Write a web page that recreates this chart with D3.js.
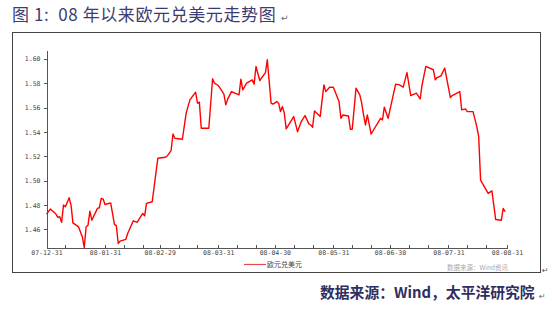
<!DOCTYPE html>
<html>
<head>
<meta charset="utf-8">
<script src="https://cdn.jsdelivr.net/npm/d3@7"></script>
<style>
  body { margin: 0; background: #fff; }
  svg { display: block; }
  .axis path, .axis line { stroke: #555; shape-rendering: crispEdges; }
  .axis text { font-family: "DejaVu Sans Mono", monospace; font-size: 6.5px; fill: #444; }
</style>
</head>
<body>
<div id="chart"></div>
<script>
// EUR/USD daily closes (dates and values)
var dates = [
  "2007-12-31","2008-01-02","2008-01-05","2008-01-06","2008-01-07","2008-01-08","2008-01-09","2008-01-10",
  "2008-01-12","2008-01-13","2008-01-14","2008-01-17","2008-01-19","2008-01-20","2008-01-21","2008-01-22",
  "2008-01-23","2008-01-24","2008-01-27","2008-01-28","2008-01-29","2008-01-30","2008-01-31","2008-02-03",
  "2008-02-05","2008-02-06","2008-02-07","2008-02-08","2008-02-11","2008-02-12","2008-02-15","2008-02-17",
  "2008-02-20","2008-02-21","2008-02-22","2008-02-25","2008-02-28","2008-03-03","2008-03-04","2008-03-06",
  "2008-03-07","2008-03-08","2008-03-12","2008-03-14","2008-03-16","2008-03-19","2008-03-20","2008-03-21",
  "2008-03-22","2008-03-26","2008-03-28","2008-03-29","2008-03-31","2008-04-03","2008-04-04","2008-04-05",
  "2008-04-07","2008-04-11","2008-04-12","2008-04-13","2008-04-15","2008-04-18","2008-04-19","2008-04-20",
  "2008-04-22","2008-04-25","2008-04-26","2008-04-27","2008-04-28","2008-04-29","2008-05-01","2008-05-02",
  "2008-05-03","2008-05-04","2008-05-05","2008-05-06","2008-05-10","2008-05-12","2008-05-14","2008-05-16",
  "2008-05-18","2008-05-19","2008-05-20","2008-05-21","2008-05-24","2008-05-26","2008-05-27","2008-05-29",
  "2008-05-31","2008-06-03","2008-06-04","2008-06-05","2008-06-08","2008-06-09","2008-06-10","2008-06-12",
  "2008-06-14","2008-06-15","2008-06-16","2008-06-17","2008-06-18","2008-06-20","2008-06-25","2008-06-26",
  "2008-06-27","2008-06-29","2008-07-03","2008-07-05","2008-07-07","2008-07-09","2008-07-11","2008-07-14",
  "2008-07-16","2008-07-17","2008-07-19","2008-07-23","2008-07-24","2008-07-25","2008-07-27","2008-07-29",
  "2008-08-01","2008-08-02","2008-08-06","2008-08-07","2008-08-09","2008-08-10","2008-08-13","2008-08-15",
  "2008-08-16","2008-08-17","2008-08-21","2008-08-23","2008-08-25","2008-08-28","2008-08-29","2008-08-30"
];
var eurusd = [
  1.4726,1.4767,1.4726,1.4699,1.4704,1.4658,1.4800,1.4786,
  1.4860,1.4800,1.4654,1.4621,1.4539,1.4452,1.4621,1.4635,
  1.4750,1.4676,1.4773,1.4778,1.4855,1.4849,1.4805,1.4818,
  1.4641,1.4632,1.4485,1.4504,1.4518,1.4567,1.4671,1.4658,
  1.4731,1.4712,1.4814,1.4827,1.5184,1.5192,1.5203,1.5246,
  1.5383,1.5348,1.5340,1.5554,1.5663,1.5726,1.5636,1.5644,
  1.5430,1.5430,1.5836,1.5800,1.5781,1.5710,1.5622,1.5669,
  1.5731,1.5704,1.5833,1.5745,1.5800,1.5827,1.5792,1.5937,
  1.5822,1.5887,1.5992,1.5813,1.5636,1.5628,1.5649,1.5636,
  1.5567,1.5608,1.5554,1.5425,1.5526,1.5402,1.5485,1.5534,
  1.5466,1.5457,1.5439,1.5572,1.5526,1.5786,1.5731,1.5767,
  1.5767,1.5649,1.5512,1.5539,1.5531,1.5422,1.5422,1.5759,
  1.5704,1.5636,1.5540,1.5457,1.5540,1.5383,1.5512,1.5499,
  1.5603,1.5512,1.5792,1.5786,1.5767,1.5887,1.5698,1.5718,
  1.5671,1.5786,1.5937,1.5910,1.5827,1.5846,1.5860,1.5924,
  1.5682,1.5698,1.5731,1.5581,1.5589,1.5567,1.5567,1.5443,
  1.5361,1.5005,1.4896,1.4917,1.4682,1.4676,1.4773,1.4745
];
var yTicks = [1.46, 1.48, 1.50, 1.52, 1.54, 1.56, 1.58, 1.60];
var xTicks = ["2007-12-31","2008-01-31","2008-02-29","2008-03-31","2008-04-30",
              "2008-05-31","2008-06-30","2008-07-31","2008-08-31"];
var seriesName = "欧元兑美元";

var parseDate = d3.timeParse("%Y-%m-%d");
var data = dates.map(function(d, i) { return [parseDate(d), eurusd[i]]; });

var width = 552, height = 310;
var plot = {left: 46.5, right: 507, top: 50.5, bottom: 247.5};

var svg = d3.select("#chart").append("svg")
    .attr("width", width)
    .attr("height", height);

// title and bottom source line (non-breaking spaces keep the gaps)
svg.append("text")
    .attr("x", 12).attr("y", 21)
    .attr("font-family", "'Noto Sans CJK SC', sans-serif")
    .attr("font-size", 17)
    .attr("letter-spacing", 0.6)
    .attr("fill", "#3c3c70")
    .text("图 1:\u00a0\u00a008 年以来欧元兑美元走势图");
svg.append("text")
    .attr("x", 281).attr("y", 21)
    .attr("font-family", "'DejaVu Sans', sans-serif")
    .attr("font-size", 9)
    .attr("fill", "#667")
    .text("↵");

svg.append("text")
    .attr("x", 320).attr("y", 298)
    .attr("font-family", "'Noto Sans CJK SC', sans-serif")
    .attr("font-size", 14.8)
    .attr("font-weight", "bold")
    .attr("fill", "#2e2e60")
    .text("数据来源：Wind，太平洋研究院");
svg.append("text")
    .attr("x", 539).attr("y", 299)
    .attr("font-family", "'DejaVu Sans', sans-serif")
    .attr("font-size", 8)
    .attr("fill", "#667")
    .text("↵");

// the frame round the chart
svg.append("rect")
    .attr("x", 12.5).attr("y", 32.5)
    .attr("width", 528).attr("height", 240)
    .attr("fill", "none")
    .attr("stroke", "#444")
    .attr("stroke-width", 1);
svg.append("text")
    .attr("x", 542).attr("y", 273)
    .attr("font-family", "'DejaVu Sans', sans-serif")
    .attr("font-size", 8)
    .attr("fill", "#555")
    .text("↵");

// scales
var xScale = d3.scaleTime()
    .domain([parseDate("2007-12-31"), parseDate("2008-08-31")])
    .range([plot.left, plot.right]);

var yScale = d3.scaleLinear()
    .domain([1.4452, 1.6068])
    .range([plot.bottom, plot.top]);

// y axis, ticks pointing outwards
var yaxis = d3.axisLeft(yScale)
    .tickValues(yTicks)
    .tickFormat(d3.format(".2f"))
    .tickSize(3)
    .tickSizeOuter(0)
    .tickPadding(3);

svg.append("g")
    .attr("class", "axis y")
    .attr("transform", "translate(" + plot.left + ",0)")
    .call(yaxis);

// minor ticks on the 10th and 20th of every month
var minorTicks = [];
d3.timeMonths(parseDate("2008-01-01"), parseDate("2008-09-01")).forEach(function(m) {
    minorTicks.push(new Date(m.getFullYear(), m.getMonth(), 10));
    minorTicks.push(new Date(m.getFullYear(), m.getMonth(), 20));
});

var xminor = d3.axisBottom(xScale)
    .tickValues(minorTicks)
    .tickFormat("")
    .tickSizeInner(-3)
    .tickSizeOuter(0);

svg.append("g")
    .attr("class", "axis x minor")
    .attr("transform", "translate(0," + plot.bottom + ")")
    .call(xminor)
    .select(".domain").remove();

var xaxis = d3.axisBottom(xScale)
    .tickValues(xTicks.map(parseDate))
    .tickFormat(d3.timeFormat("%y-%m-%d"))
    .tickSizeInner(-3)
    .tickSizeOuter(0)
    .tickPadding(3);

svg.append("g")
    .attr("class", "axis x")
    .attr("transform", "translate(0," + plot.bottom + ")")
    .call(xaxis)
    .selectAll("line")
        .attr("y1", 1);

// the series line
var line = d3.line()
    .x(function(d) { return xScale(d[0]); })
    .y(function(d) { return yScale(d[1]); })
    .curve(d3.curveLinear);

svg.append("path")
    .datum(data)
    .attr("fill", "none")
    .attr("stroke", "#ff0000")
    .attr("stroke-width", 1.4)
    .attr("stroke-linejoin", "round")
    .attr("d", line);

// legend
svg.append("line")
    .attr("x1", 244).attr("x2", 266)
    .attr("y1", 264.5).attr("y2", 264.5)
    .attr("stroke", "#e8474f")
    .attr("stroke-width", 1.2);
svg.append("text")
    .attr("x", 267).attr("y", 267)
    .attr("font-family", "'Noto Sans CJK SC', sans-serif")
    .attr("font-size", 7)
    .attr("fill", "#444")
    .text(seriesName);

// gray source watermark inside the frame
svg.append("text")
    .attr("x", 447).attr("y", 270)
    .attr("font-family", "'Noto Sans CJK SC', sans-serif")
    .attr("font-size", 6.5)
    .attr("fill", "#aaa")
    .text("数据来源：Wind资讯");
</script>
</body>
</html>
